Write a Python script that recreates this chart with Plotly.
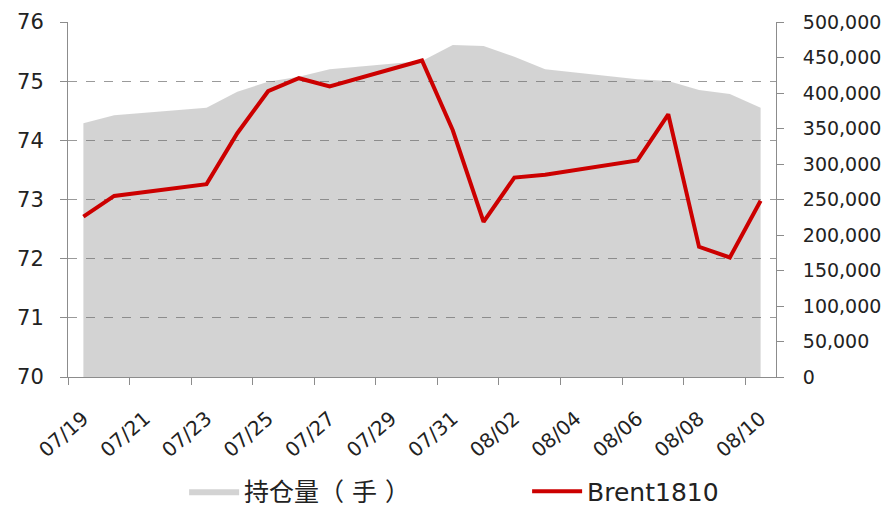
import plotly.graph_objects as go

# trading days and values
dates = ["2018-07-19", "2018-07-20", "2018-07-23", "2018-07-24", "2018-07-25",
         "2018-07-26", "2018-07-27", "2018-07-30", "2018-07-31", "2018-08-01",
         "2018-08-02", "2018-08-03", "2018-08-06", "2018-08-07", "2018-08-08",
         "2018-08-09", "2018-08-10"]
brent = [72.71, 73.06, 73.26, 74.12, 74.83, 75.05, 74.91, 75.35, 74.17, 72.62,
         73.37, 73.42, 73.66, 74.44, 72.20, 72.02, 72.98]
open_interest = [357300, 368600, 379300, 401800, 415900, 423000, 433300, 445000,
                 467600, 466200, 451200, 433300, 419200, 416900, 404200, 398600, 379300]

tick_dates = ["2018-07-19", "2018-07-21", "2018-07-23", "2018-07-25", "2018-07-27",
              "2018-07-29", "2018-07-31", "2018-08-02", "2018-08-04", "2018-08-06",
              "2018-08-08", "2018-08-10"]
tick_labels = ["07/19", "07/21", "07/23", "07/25", "07/27", "07/29", "07/31",
               "08/02", "08/04", "08/06", "08/08", "08/10"]
# category boundaries (tick marks sit between days, like Excel)
boundary_ticks = ["2018-07-18 12:00", "2018-07-20 12:00", "2018-07-22 12:00",
                  "2018-07-24 12:00", "2018-07-26 12:00", "2018-07-28 12:00",
                  "2018-07-30 12:00", "2018-08-01 12:00", "2018-08-03 12:00",
                  "2018-08-05 12:00", "2018-08-07 12:00", "2018-08-09 12:00"]

AXIS = "#8c8c8c"
TXT = "#222222"

fig = go.Figure()

# 持仓量 area on the right axis (main y), drawn underneath
fig.add_trace(go.Scatter(
    x=dates, y=open_interest, name="持仓量（ 手 ）",
    mode="lines", line=dict(width=0, color="#c8c8c8"),
    fill="tozeroy", fillcolor="rgba(110,110,110,0.30)",
    yaxis="y"
))

# Brent price on the left axis (overlay), drawn on top
fig.add_trace(go.Scatter(
    x=dates, y=brent, name="Brent1810",
    mode="lines", line=dict(width=4, color="#cc0000"),
    yaxis="y2"
))

# page body has an 8px margin, so the figure is 8px smaller than the window
fig.update_layout(
    width=885, height=501,
    margin=dict(l=60, r=117, t=14, b=132, autoexpand=False),
    paper_bgcolor="white", plot_bgcolor="white",
    font=dict(family="DejaVu Sans, Noto Sans CJK SC", size=16, color=TXT),
    showlegend=True,
    legend=dict(
        orientation="h", x=0.164, xanchor="left", y=-0.258, yanchor="top",
        font=dict(size=25, color=TXT), itemwidth=50,
        entrywidth=278, entrywidthmode="pixels",
        bgcolor="rgba(0,0,0,0)"
    ),
    xaxis=dict(
        type="date",
        range=["2018-07-18 12:00", "2018-08-10 12:00"],
        tickmode="array", tickvals=tick_dates, ticktext=tick_labels,
        tickangle=-41, ticks="", showgrid=False,
        showline=True, linecolor=AXIS, linewidth=1,
        ticklabelstandoff=21, ticklabelshift=0,
        tickfont=dict(size=20, color=TXT),
        minor=dict(tickmode="array", tickvals=boundary_ticks,
                   ticks="outside", ticklen=7, tickcolor=AXIS, showgrid=False),
    ),
    yaxis=dict(
        side="right", range=[0, 500000], tickmode="linear", tick0=0, dtick=50000,
        tickformat=",d", showgrid=False, zeroline=False,
        showline=True, linecolor=AXIS, linewidth=1,
        ticks="outside", ticklen=7, tickcolor=AXIS,
        ticklabelstandoff=15,
        tickfont=dict(size=19, color=TXT)
    ),
    yaxis2=dict(
        overlaying="y", side="left", range=[70, 76], tickmode="linear", tick0=70, dtick=1,
        showgrid=True, gridcolor="#9a9a9a", griddash="dash", gridwidth=1,
        zeroline=False,
        showline=True, linecolor=AXIS, linewidth=1,
        ticks="outside", ticklen=7, tickcolor=AXIS,
        ticklabelstandoff=12,
        tickfont=dict(size=21, color=TXT)
    ),
)

fig.write_html("out.html")
